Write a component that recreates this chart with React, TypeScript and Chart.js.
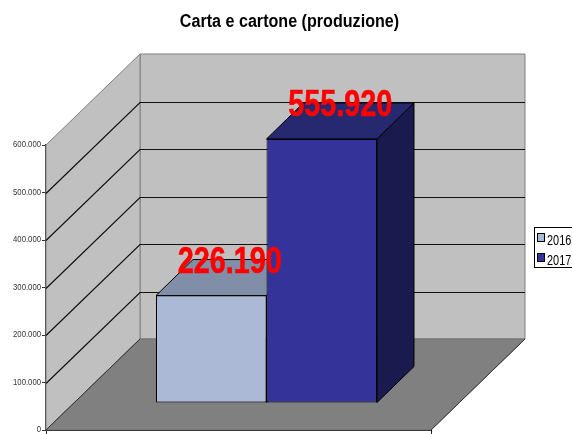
import React, { useEffect, useRef } from "react";
import { Chart, registerables } from "chart.js";

Chart.register(...registerables);

const titleText = "Carta e cartone (produzione)";
const categories = [""];
const seriesNames = ["2016", "2017"];
const values2016 = [226190];
const values2017 = [555920];
const tickStep = 100000;
const axisMax = 600000;

const FLOOR_DX = 94;
const FLOOR_DY = -91;
const BAR_OFF_X = 28;
const BAR_OFF_Y = -27;
const BAR_DX = 37;
const BAR_DY = -36;
const frontShades = ["#ABB9D7", "#333399"];
const topShades = ["#808EA8", "#262870"];
const sideShades = ["#6F7B92", "#1A1A4E"];
const fontFamily = '"Liberation Sans", Arial, sans-serif';
const fmt = (v: number) => String(v).replace(/\B(?=(\d{3})+(?!\d))/g, ".");

function poly(ctx: CanvasRenderingContext2D, pts: number[][], fill: string | null, stroke: string | null, lw = 1) {
  ctx.beginPath();
  pts.forEach((p, i) => (i ? ctx.lineTo(p[0], p[1]) : ctx.moveTo(p[0], p[1])));
  ctx.closePath();
  if (fill) { ctx.fillStyle = fill; ctx.fill(); }
  if (stroke) { ctx.strokeStyle = stroke; ctx.lineWidth = lw; ctx.stroke(); }
}

function squeezed(ctx: CanvasRenderingContext2D, text: string, x: number, y: number, sx: number, font: string, color: string, align: CanvasTextAlign, strokeW = 0) {
  ctx.save();
  ctx.font = font;
  ctx.fillStyle = color;
  ctx.textAlign = align;
  ctx.textBaseline = "alphabetic";
  ctx.translate(x, y);
  ctx.scale(sx, 1);
  ctx.fillText(text, 0, 0);
  if (strokeW) {
    ctx.strokeStyle = color;
    ctx.lineWidth = strokeW;
    ctx.strokeText(text, 0, 0);
  }
  ctx.restore();
}

const scene3d = {
  id: "scene3d",
  beforeDraw(chart: any) {
    const y = chart.scales.y;
    if (!y.__wrapped) {
      y.__wrapped = true;
      const orig = y.drawLabels.bind(y);
      y.drawLabels = (area: any) => {
        const c = chart.ctx;
        c.save();
        c.translate(41, 0);
        c.scale(0.86, 1);
        c.translate(-41, 0);
        orig(area);
        c.restore();
      };
    }
  },
  beforeDatasetsDraw(chart: any) {
    const { ctx, chartArea: a, scales } = chart;
    const y = scales.y;
    const L = a.left, R = a.right, T = a.top, B = a.bottom;
    ctx.save();
    poly(ctx, [[L + FLOOR_DX, T + FLOOR_DY], [R + FLOOR_DX, T + FLOOR_DY], [R + FLOOR_DX, B + FLOOR_DY], [L + FLOOR_DX, B + FLOOR_DY]], "#C0C0C0", "#808080");
    poly(ctx, [[L, T], [L + FLOOR_DX, T + FLOOR_DY], [L + FLOOR_DX, B + FLOOR_DY], [L, B]], "#C0C0C0", "#808080");
    poly(ctx, [[L, B], [L + FLOOR_DX, B + FLOOR_DY], [R + FLOOR_DX, B + FLOOR_DY], [R, B]], "#808080", "#707070");
    ctx.strokeStyle = "#333";
    ctx.lineWidth = 1;
    ctx.beginPath();
    ctx.moveTo(L, B);
    ctx.lineTo(L + FLOOR_DX, B + FLOOR_DY);
    ctx.moveTo(R, B);
    ctx.lineTo(R + FLOOR_DX, B + FLOOR_DY);
    ctx.stroke();
    ctx.strokeStyle = "#111";
    ctx.lineWidth = 1.2;
    y.ticks.forEach((t: any) => {
      if (t.value === 0 || t.value >= axisMax) return;
      const p = Math.round(y.getPixelForValue(t.value)) + 0.5;
      ctx.beginPath();
      ctx.moveTo(L, p);
      ctx.lineTo(L + FLOOR_DX, p + FLOOR_DY);
      ctx.lineTo(R + FLOOR_DX, p + FLOOR_DY);
      ctx.stroke();
    });
    [0, 1].forEach((i) => {
      const el = chart.getDatasetMeta(i).data[0];
      const { x, y: top, base, width } = el.getProps(["x", "y", "base", "width"], true);
      const l = x - width / 2 + BAR_OFF_X, r = x + width / 2 + BAR_OFF_X;
      const t = top + BAR_OFF_Y, b = base + BAR_OFF_Y;
      poly(ctx, [[r, b], [r + BAR_DX, b + BAR_DY], [r + BAR_DX, t + BAR_DY], [r, t]], sideShades[i], "#000");
      poly(ctx, [[l, t], [l + BAR_DX, t + BAR_DY], [r + BAR_DX, t + BAR_DY], [r, t]], topShades[i], "#000");
    });
    ctx.restore();
  },
  beforeDatasetDraw(chart: any) {
    chart.ctx.save();
    chart.ctx.translate(BAR_OFF_X, BAR_OFF_Y);
  },
  afterDatasetDraw(chart: any) {
    chart.ctx.restore();
  },
  afterDatasetsDraw(chart: any) {
    const { ctx } = chart;
    [0, 1].forEach((i) => {
      const el = chart.getDatasetMeta(i).data[0];
      const { x, y: top } = el.getProps(["x", "y"], true);
      const v = chart.data.datasets[i].data[0];
      squeezed(ctx, fmt(v), x + BAR_OFF_X + BAR_DX / 2, top + BAR_OFF_Y - 22.5, 0.8, `bold 36px ${fontFamily}`, "#FF0000", "center", 0.6);
    });
  },
  afterDraw(chart: any) {
    const { ctx } = chart;
    squeezed(ctx, titleText, 289.5, 27, 0.895, `bold 18px ${fontFamily}`, "#000", "center");
    ctx.save();
    ctx.fillStyle = "#fff";
    ctx.strokeStyle = "#000";
    ctx.lineWidth = 1;
    ctx.fillRect(534.5, 227.5, 38, 40);
    ctx.strokeRect(534.5, 227.5, 38, 40);
    chart.data.datasets.forEach((d: any, i: number) => {
      const top = 233.5 + i * 20;
      ctx.fillStyle = frontShades[i];
      ctx.fillRect(537.5, top, 7, 8);
      ctx.strokeRect(537.5, top, 7, 8);
      squeezed(ctx, d.label, 547, top + 11, 0.78, `14px ${fontFamily}`, "#000", "left");
    });
    ctx.restore();
  },
};

export default function App() {
  const ref = useRef<HTMLCanvasElement>(null);
  useEffect(() => {
    const chart = new Chart(ref.current!, {
      type: "bar",
      plugins: [scene3d],
      data: {
        labels: categories,
        datasets: [
          { label: seriesNames[0], data: values2016, backgroundColor: frontShades[0], borderColor: "#000", borderWidth: 1, borderSkipped: false },
          { label: seriesNames[1], data: values2017, backgroundColor: frontShades[1], borderColor: "#000", borderWidth: 1, borderSkipped: false },
        ],
      },
      options: {
        responsive: false,
        animation: false,
        layout: { padding: { top: 145, left: 0, right: 141, bottom: 0 } },
        datasets: { bar: { barPercentage: 1, categoryPercentage: 0.574 } },
        plugins: {
          tooltip: { enabled: false },
          title: { display: false },
          legend: { display: false },
        },
        scales: {
          x: {
            grid: { drawOnChartArea: false, drawTicks: true, tickLength: 4, color: "#222" },
            border: { color: "#000" },
            ticks: { display: false },
            afterFit: (s: any) => { s.height = 4; },
          },
          y: {
            min: 0,
            max: axisMax,
            grid: { drawOnChartArea: false, tickLength: 4, color: "#333" },
            border: { color: "#333", width: 1.5 },
            ticks: {
              stepSize: tickStep,
              color: "#333",
              padding: 1,
              font: { family: fontFamily, size: 9 },
              callback: (v: any) => fmt(Number(v)),
            },
            afterFit: (s: any) => { s.width = 46; s.paddingBottom = 0; s.paddingTop = 0; },
          },
        },
      } as any,
    });
    return () => chart.destroy();
  }, []);
  return (
    <div style={{ position: "fixed", left: 0, top: 0, width: 572, height: 434, background: "#fff" }}>
      <canvas ref={ref} width={572} height={434} style={{ display: "block" }} />
    </div>
  );
}
